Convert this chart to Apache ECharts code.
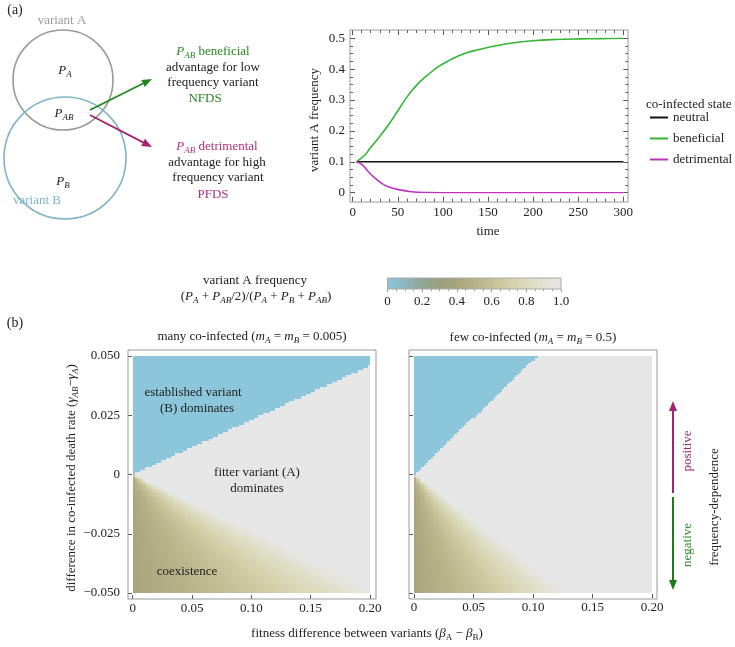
<!DOCTYPE html>
<html>
<head>
<meta charset="utf-8">
<style>
    html, body { margin: 0; padding: 0; background: #fff; }
    #main { width: 735px; height: 647px; }
</style>
<script src="https://cdn.jsdelivr.net/npm/echarts@6.0.0/dist/echarts.min.js"></script>
</head>
<body>
<div id="main"></div>
<script>
// (a) time series
const timeNeutral = [4, 300];
const freqNeutral = [0.1, 0.1];
const timeBen = [4, 13.6, 19.2, 28.4, 39.5, 50.6, 61.7, 72.8, 83.9, 95, 106, 117, 128, 139, 156, 175, 200, 225, 250, 275, 300];
const freqBen = [0.1, 0.122, 0.144, 0.176, 0.219, 0.268, 0.316, 0.354, 0.383, 0.408, 0.427, 0.443, 0.455, 0.463, 0.474, 0.484, 0.492, 0.496, 0.498, 0.499, 0.5];
const timeDet = [4, 10, 17.4, 24.8, 32.2, 39.5, 50.6, 65.5, 84, 100, 150, 200, 250, 300];
const freqDet = [0.1, 0.092, 0.068, 0.047, 0.030, 0.019, 0.010, 0.003, 0.0005, 0, 0, 0, 0, 0];
const stateNames = ['neutral', 'beneficial', 'detrimental'];

// colour scale of variant A frequency
const scaleColors = ['#8cc6da', '#8cb6c0', '#8fa695', '#9a9f80', '#a8a57e', '#b6b287', '#c4c096',
                     '#d2cfa9', '#dcdbbd', '#e2e1d3', '#e6e6e6'];

// (b) borders: [many co-infected, few co-infected]
const blueEdgeSlope = [0.23, 0.48];   // γ-difference per β-difference above which B dominates
const coexEdgeSlope = [4.2, 2.6];     // β-difference per unit negative γ-difference where coexistence ends
const coexRel = [0, 0.25, 0.5, 0.75, 1];          // position across the coexistence wedge
const coexFreq = [0.40, 0.52, 0.65, 0.80, 1.0];   // variant A frequency there
const cellsX = 100, cellsY = 100;
const betaMax = 0.2, gammaMax = 0.05;

const SERIF = "'Liberation Serif', 'DejaVu Serif', serif";
const INK = '#222';

const CELL_X = betaMax / cellsX;
const CELL_Y = 2 * gammaMax / cellsY;

function interp(xs, ys, v) {
    if (v <= xs[0]) return ys[0];
    for (let i = 1; i < xs.length; i++) {
        if (v <= xs[i]) {
            let t = (v - xs[i - 1]) / (xs[i] - xs[i - 1]);
            return ys[i - 1] + t * (ys[i] - ys[i - 1]);
        }
    }
    return ys[ys.length - 1];
}

function mapCells(k) {
    let out = [];
    for (let i = 0; i < cellsX; i++) {
        let x = (i + 0.5) * CELL_X;
        for (let j = 0; j < cellsY; j++) {
            let y = -gammaMax + (j + 0.5) * CELL_Y;
            let v = 1;
            if (y > 0 && y > blueEdgeSlope[k] * x) {
                v = 0;
            } else if (y < 0) {
                let r = x / (-y * coexEdgeSlope[k]);
                v = r >= 1 ? 1 : interp(coexRel, coexFreq, r);
            }
            out.push([x, y, v]);
        }
    }
    return out;
}

let barCells = [];
for (let i = 0; i < 100; i++) {
    let v = (i + 0.5) / 100;
    barCells.push([v, 0.5, v]);
}

// cells snapped to whole pixels so that no seams show between them
function renderCell(params, api) {
    let x = api.value(0), y = api.value(1);
    let a = api.coord([x - CELL_X / 2, y + CELL_Y / 2]);
    let b = api.coord([x + CELL_X / 2, y - CELL_Y / 2]);
    let x0 = Math.round(a[0]), y0 = Math.round(a[1]);
    let x1 = Math.round(b[0]), y1 = Math.round(b[1]);
    return {
        type: 'rect',
        shape: { x: x0, y: y0, width: x1 - x0, height: y1 - y0 },
        style: { fill: api.visual('color') }
    };
}

function renderStrip(params, api) {
    let x = api.value(0);
    let a = api.coord([x - 0.005, 1]);
    let b = api.coord([x + 0.005, 0]);
    let x0 = Math.round(a[0]), x1 = Math.round(b[0]);
    return {
        type: 'rect',
        shape: { x: x0, y: a[1], width: x1 - x0, height: b[1] - a[1] },
        style: { fill: api.visual('color') }
    };
}

function pairs(xs, ys) {
    return xs.map((x, i) => [x, ys[i]]);
}

// rich text helpers
function rich(size) {
    return {
        n: { fontFamily: SERIF, fontSize: size, lineHeight: size + 3 },
        i: { fontFamily: SERIF, fontSize: size, fontStyle: 'italic', lineHeight: size + 3 },
        s: { fontFamily: SERIF, fontSize: size - 4, fontStyle: 'italic', verticalAlign: 'bottom', lineHeight: size - 4 },
        u: { fontFamily: SERIF, fontSize: size - 4, verticalAlign: 'bottom', lineHeight: size - 4 }
    };
}

function label(x, y, text, opts) {
    opts = opts || {};
    return {
        type: 'text', x: x, y: y, rotation: opts.rot || 0, z: 50,
        style: {
            text: text, rich: rich(opts.size || 13),
            fill: opts.color || INK,
            font: (opts.size || 13) + 'px ' + SERIF,
            align: opts.align || 'center', verticalAlign: 'middle'
        }
    };
}

function arrow(x1, y1, x2, y2, color, w, hl, hw) {
    let a = Math.atan2(y2 - y1, x2 - x1);
    let bx = x2 - hl * Math.cos(a), by = y2 - hl * Math.sin(a);
    let px = -Math.sin(a) * hw / 2, py = Math.cos(a) * hw / 2;
    return [
        { type: 'line', z: 50, shape: { x1: x1, y1: y1, x2: bx, y2: by }, style: { stroke: color, lineWidth: w } },
        { type: 'polygon', z: 50, shape: { points: [[x2, y2], [bx + px, by + py], [bx - px, by - py]] }, style: { fill: color } }
    ];
}

function frame(x, y, w, h, color) {
    return { type: 'rect', z: 40, shape: { x: x, y: y, width: w, height: h },
             style: { fill: null, stroke: color || '#999', lineWidth: 1 } };
}

const GREEN = '#23871f', MAGENTA = '#a3236f';

let graphics = [
    label(15, 10, '(a)', { size: 14 }),
    label(15, 323, '(b)', { size: 14 }),

    // Venn diagram
    { type: 'circle', z: 45, shape: { cx: 63, cy: 80, r: 50 }, style: { fill: null, stroke: '#9a9a9a', lineWidth: 1.6 } },
    { type: 'circle', z: 45, shape: { cx: 65, cy: 158, r: 61 }, style: { fill: null, stroke: '#7fb4c8', lineWidth: 1.6 } },
    label(62, 21, 'variant A', { color: '#9a9a9a' }),
    label(37, 201, 'variant B', { color: '#7fb4c8' }),
    label(65, 71, '{i|P}{s|A}'),
    label(64, 114, '{i|P}{s|AB}'),
    label(63, 182, '{i|P}{s|B}'),
    ...arrow(90, 110, 152, 79, GREEN, 1.8, 10, 8),
    ...arrow(90, 115, 152, 147, MAGENTA, 1.8, 10, 8),
    label(213, 52, '{i|P}{s|AB}{n| beneficial}', { color: GREEN }),
    label(213, 68, 'advantage for low'),
    label(213, 83, 'frequency variant'),
    label(205, 99, 'NFDS', { color: GREEN }),
    label(217, 147, '{i|P}{s|AB}{n| detrimental}', { color: '#b0307c' }),
    label(217, 163, 'advantage for high'),
    label(218, 178, 'frequency variant'),
    label(213, 195, 'PFDS', { color: '#b0307c' }),

    // line chart
    frame(350, 30, 278, 172),
    label(315, 120, 'variant A frequency', { rot: Math.PI / 2 }),
    label(488, 232, 'time'),
    label(646, 105, 'co-infected state', { align: 'left' }),

    // colour bar
    frame(387.5, 278, 173.5, 11, '#aaa'),
    label(255, 281, 'variant A frequency'),
    label(256, 297, '({i|P}{s|A}{n| + }{i|P}{s|AB}{n|/2)/(}{i|P}{s|A}{n| + }{i|P}{s|B}{n| + }{i|P}{s|AB}{n|)}'),

    // maps
    frame(128, 350, 248, 249),
    frame(409, 350, 248, 249),
    label(252, 337, '{n|many co-infected (}{i|m}{s|A}{n| = }{i|m}{s|B}{n| = 0.005)}'),
    label(533, 338, '{n|few co-infected (}{i|m}{s|A}{n| = }{i|m}{s|B}{n| = 0.5)}'),
    label(72, 478, '{n|difference in co-infected death rate (}{i|γ}{s|AB}{n|−}{i|γ}{s|A}{n|)}', { rot: Math.PI / 2 }),
    label(367, 634, '{n|fitness difference between variants (}{i|β}{u|A}{n| − }{i|β}{u|B}{n|)}'),
    label(193, 393, 'established variant'),
    label(197, 409, '(B) dominates'),
    label(257, 473, 'fitter variant (A)'),
    label(257, 489, 'dominates'),
    label(187, 572, 'coexistence'),

    // frequency-dependence arrows
    ...arrow(673, 493, 673, 401, MAGENTA, 2, 10, 8),
    ...arrow(673, 497, 673, 590, '#1d7d1d', 2, 10, 8),
    label(688, 451, 'positive', { rot: Math.PI / 2, color: '#a3236f' }),
    label(688, 545, 'negative', { rot: Math.PI / 2, color: '#2a8a2a' }),
    label(715, 507, 'frequency-dependence', { rot: Math.PI / 2 })
];

const tickStyle = { color: '#555', width: 1 };
const labelStyle = { fontFamily: SERIF, fontSize: 13, color: INK };
const noLine = { show: false, onZero: false };

function fmt(d) {
    return function (v) {
        if (Math.abs(v) < 1e-9) return '0';
        return (v < 0 ? '−' : '') + Math.abs(v).toFixed(d);
    };
}

let myChart = echarts.init(document.getElementById('main'), null, { renderer: 'canvas' });

myChart.setOption({
    animation: false,
    textStyle: { fontFamily: SERIF },
    grid: [
        { left: 352.7, top: 38.3, width: 270.6, height: 154.4 },
        { left: 387.5, top: 278, width: 173.5, height: 11 },
        { left: 132.7, top: 356, width: 237.3, height: 237 },
        { left: 414, top: 356, width: 238, height: 237 }
    ],
    xAxis: [
        { gridIndex: 0, type: 'value', min: 0, max: 300, interval: 50, offset: 9,
          axisLine: noLine, splitLine: { show: false },
          axisTick: { inside: true, length: 5, lineStyle: tickStyle },
          minorTick: { show: true, splitNumber: 5, length: 3, lineStyle: tickStyle },
          axisLabel: Object.assign({ margin: 4 }, labelStyle) },
        { gridIndex: 0, type: 'value', position: 'top', min: 0, max: 300, interval: 50, offset: 8.3,
          axisLine: noLine, splitLine: { show: false }, axisLabel: { show: false },
          axisTick: { inside: true, length: 5, lineStyle: tickStyle },
          minorTick: { show: true, splitNumber: 5, length: 3, lineStyle: tickStyle } },
        { gridIndex: 1, type: 'value', min: 0, max: 1, interval: 0.2,
          axisLine: noLine, splitLine: { show: false },
          axisTick: { length: 3, lineStyle: { color: '#999' } },
          minorTick: { show: true, splitNumber: 4, length: 2, lineStyle: { color: '#999' } },
          axisLabel: Object.assign({ margin: 6, formatter: fmt(1) }, labelStyle) },
        { gridIndex: 2, type: 'value', min: 0, max: betaMax, interval: 0.05, offset: 6,
          axisLine: noLine, splitLine: { show: false },
          axisTick: { inside: true, length: 4, lineStyle: tickStyle },
          axisLabel: Object.assign({ margin: 3, formatter: fmt(2) }, labelStyle) },
        { gridIndex: 3, type: 'value', min: 0, max: betaMax, interval: 0.05, offset: 5,
          axisLine: noLine, splitLine: { show: false },
          axisTick: { inside: true, length: 4, lineStyle: tickStyle },
          axisLabel: Object.assign({ margin: 3, formatter: fmt(2) }, labelStyle) }
    ],
    yAxis: [
        { gridIndex: 0, type: 'value', min: 0, max: 0.5, interval: 0.1, offset: 2.7,
          axisLine: noLine, splitLine: { show: false },
          axisTick: { inside: true, length: 5, lineStyle: tickStyle },
          minorTick: { show: true, splitNumber: 4, length: 3, lineStyle: tickStyle },
          axisLabel: Object.assign({ margin: 5, formatter: fmt(1) }, labelStyle) },
        { gridIndex: 0, type: 'value', position: 'right', min: 0, max: 0.5, interval: 0.1, offset: 5,
          axisLine: noLine, splitLine: { show: false }, axisLabel: { show: false },
          axisTick: { inside: true, length: 5, lineStyle: tickStyle },
          minorTick: { show: true, splitNumber: 4, length: 3, lineStyle: tickStyle } },
        { gridIndex: 1, type: 'value', min: 0, max: 1, show: false },
        { gridIndex: 2, type: 'value', min: -gammaMax, max: gammaMax, interval: 0.025, offset: 4.7,
          axisLine: noLine, splitLine: { show: false },
          axisTick: { inside: true, length: 4, lineStyle: tickStyle },
          axisLabel: Object.assign({ margin: 8, formatter: fmt(3) }, labelStyle) },
        { gridIndex: 3, type: 'value', min: -gammaMax, max: gammaMax, interval: 0.025, offset: 5,
          axisLine: noLine, splitLine: { show: false }, axisLabel: { show: false },
          axisTick: { inside: true, length: 4, lineStyle: tickStyle } }
    ],
    legend: {
        data: stateNames,
        orient: 'vertical',
        left: 650, top: 111, padding: 0,
        itemWidth: 18, itemHeight: 2, itemGap: 8,
        icon: 'rect',
        textStyle: { fontFamily: SERIF, fontSize: 13, color: INK }
    },
    visualMap: {
        show: false, type: 'continuous', min: 0, max: 1, dimension: 2,
        seriesIndex: [3, 4, 5],
        inRange: { color: scaleColors }
    },
    series: [
        { name: stateNames[0], type: 'line', xAxisIndex: 0, yAxisIndex: 0, showSymbol: false,
          color: '#111', lineStyle: { width: 1.6 }, data: pairs(timeNeutral, freqNeutral) },
        { name: stateNames[1], type: 'line', xAxisIndex: 0, yAxisIndex: 0, showSymbol: false, smooth: 0.4,
          color: '#33b533', lineStyle: { width: 1.6 }, data: pairs(timeBen, freqBen) },
        { name: stateNames[2], type: 'line', xAxisIndex: 0, yAxisIndex: 0, showSymbol: false, smooth: 0.4,
          color: '#bd35bd', lineStyle: { width: 1.6 }, data: pairs(timeDet, freqDet) },
        { type: 'custom', xAxisIndex: 2, yAxisIndex: 2, renderItem: renderStrip, progressive: 0,
          encode: { x: 0, y: 1 }, data: barCells },
        { type: 'custom', xAxisIndex: 3, yAxisIndex: 3, renderItem: renderCell, progressive: 0,
          encode: { x: 0, y: 1 }, data: mapCells(0) },
        { type: 'custom', xAxisIndex: 4, yAxisIndex: 4, renderItem: renderCell, progressive: 0,
          encode: { x: 0, y: 1 }, data: mapCells(1) }
    ],
    graphic: graphics
});
</script>
</body>
</html>
